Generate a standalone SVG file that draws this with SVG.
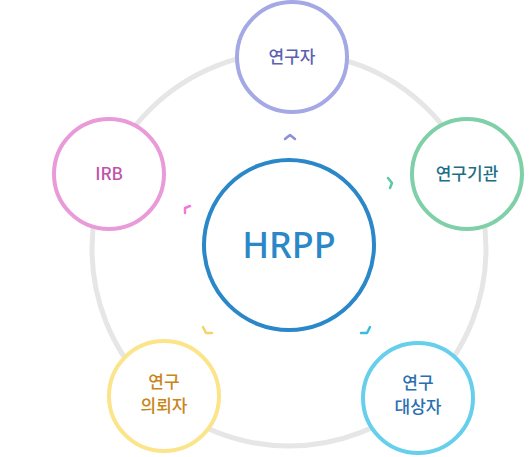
<svg xmlns="http://www.w3.org/2000/svg" width="530" height="457" viewBox="0 0 530 457">
<style>
.node{fill:#fff;stroke-width:4}
.lbl{font-family:"Noto Sans CJK KR","Noto Sans",sans-serif;font-size:17px;font-weight:500;text-anchor:middle}
.chev{fill:none;stroke-width:2.5;stroke-linecap:round;stroke-linejoin:round}
</style>
<rect width="530" height="457" fill="#fff"/>
<g id="connectors">
<circle cx="289" cy="249" r="197" fill="none" stroke="#e6e6e6" stroke-width="5"/>
<path class="chev" stroke="#8a90dc" d="M285,139 L290,135 L295,139"/>
<path class="chev" stroke="#5cc8a6" d="M388,178 L392,183 L390,188"/>
<path class="chev" stroke="#3cbcdc" d="M370,327 L367,333 L361,333"/>
<path class="chev" stroke="#f5d36a" d="M203,327 L206,333 L212,333"/>
<path class="chev" stroke="#f07ad6" d="M185,213 L185,208 L190,206"/>
</g>
<g id="hrpp">
<circle cx="289" cy="245" r="85" fill="#fff" stroke="#2a87c8" stroke-width="4"/>
<text x="289" y="258" font-family="Noto Sans,sans-serif" font-size="36" font-weight="500" fill="#2a87c8" text-anchor="middle">HRPP</text>
</g>
<g id="researcher">
<circle class="node" cx="292" cy="57" r="55" stroke="#a4a9e6"/>
<text class="lbl" x="292" y="63" fill="#5c62b0">연구자</text>
</g>
<g id="institution">
<circle class="node" cx="467" cy="174" r="55" stroke="#7fd0a8"/>
<text class="lbl" x="467" y="180" fill="#1a6f86">연구기관</text>
</g>
<g id="subject">
<circle class="node" cx="418" cy="398" r="55" stroke="#66d0ec"/>
<text class="lbl" x="418" y="389" fill="#2a6fb0">연구</text>
<text class="lbl" x="418" y="413" fill="#2a6fb0">대상자</text>
</g>
<g id="sponsor">
<circle class="node" cx="164" cy="396" r="55" stroke="#fbe48a"/>
<text class="lbl" x="164" y="388" fill="#c8861a">연구</text>
<text class="lbl" x="164" y="412" fill="#c8861a">의뢰자</text>
</g>
<g id="irb">
<circle class="node" cx="109" cy="174" r="55" stroke="#e99bd9"/>
<text class="lbl" x="109" y="180" fill="#c054a8">IRB</text>
</g>
</svg>
